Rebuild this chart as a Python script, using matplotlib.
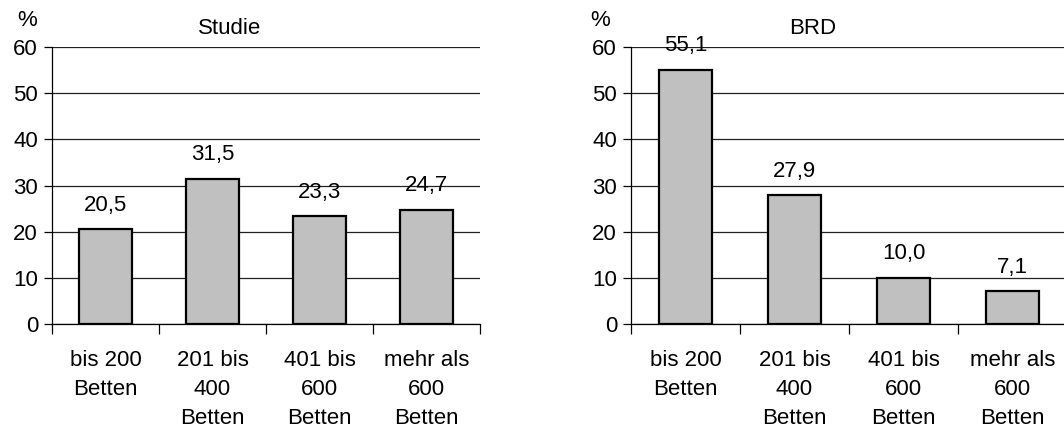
import matplotlib
matplotlib.use("Agg")
import matplotlib.pyplot as plt
from matplotlib.ticker import FixedLocator

plt.rcParams['font.family'] = ['Liberation Sans', 'DejaVu Sans']

categories = ["bis 200\nBetten", "201 bis\n400\nBetten", "401 bis\n600\nBetten", "mehr als\n600\nBetten"]
studie = [20.5, 31.5, 23.3, 24.7]
brd = [55.1, 27.9, 10.0, 7.1]
yticks = [0, 10, 20, 30, 40, 50, 60]

FS = 16
W, H = 1064, 432
fig = plt.figure(figsize=(W / 100, H / 100), dpi=100)


def panel(rect, values, title, pct_x):
    ax = fig.add_axes(rect)
    n = len(values)
    centers = [i + 0.5 for i in range(n)]
    bars = ax.bar(centers, values, width=0.49, color="#c0c0c0",
                  edgecolor="black", linewidth=1.6, zorder=3)
    ax.set_xlim(0, n)
    ax.set_ylim(0, 60)
    ax.set_yticks(yticks)
    ax.set_yticklabels([str(t) for t in yticks], fontsize=FS)
    ax.yaxis.grid(True, color="#222222", linewidth=0.9, zorder=0)
    ax.set_axisbelow(True)
    ax.set_xticks(centers)
    ax.set_xticklabels(categories, fontsize=FS, linespacing=1.5)
    ax.xaxis.set_minor_locator(FixedLocator(list(range(n + 1))))
    ax.tick_params(axis="x", which="major", length=0, pad=18.5)
    ax.tick_params(axis="x", which="minor", length=7, width=0.9, direction="out")
    ax.tick_params(axis="y", length=6, width=0.9, pad=4)
    for s in ("top", "right"):
        ax.spines[s].set_visible(False)
    for s in ("left", "bottom"):
        ax.spines[s].set_linewidth(0.9)
    for b, v in zip(bars, values):
        ax.annotate(f"{v:.1f}".replace(".", ","),
                    (b.get_x() + b.get_width() / 2, v),
                    xytext=(0, 24), textcoords="offset pixels",
                    ha="center", va="center", fontsize=FS)
    ax.text(0.416, 1 + 19 / 277, title, transform=ax.transAxes, ha="center",
            va="center", fontsize=FS)
    fig.text(pct_x / W, 1 - 21 / H, "%", ha="center", va="center", fontsize=FS)
    return ax


bottom = (H - 324) / H
height = 277 / H
panel([52 / W, bottom, 428 / W, height], studie, "Studie", 27)
panel([631 / W, bottom, 436 / W, height], brd, "BRD", 600)

fig.savefig("out.png", dpi=100)
